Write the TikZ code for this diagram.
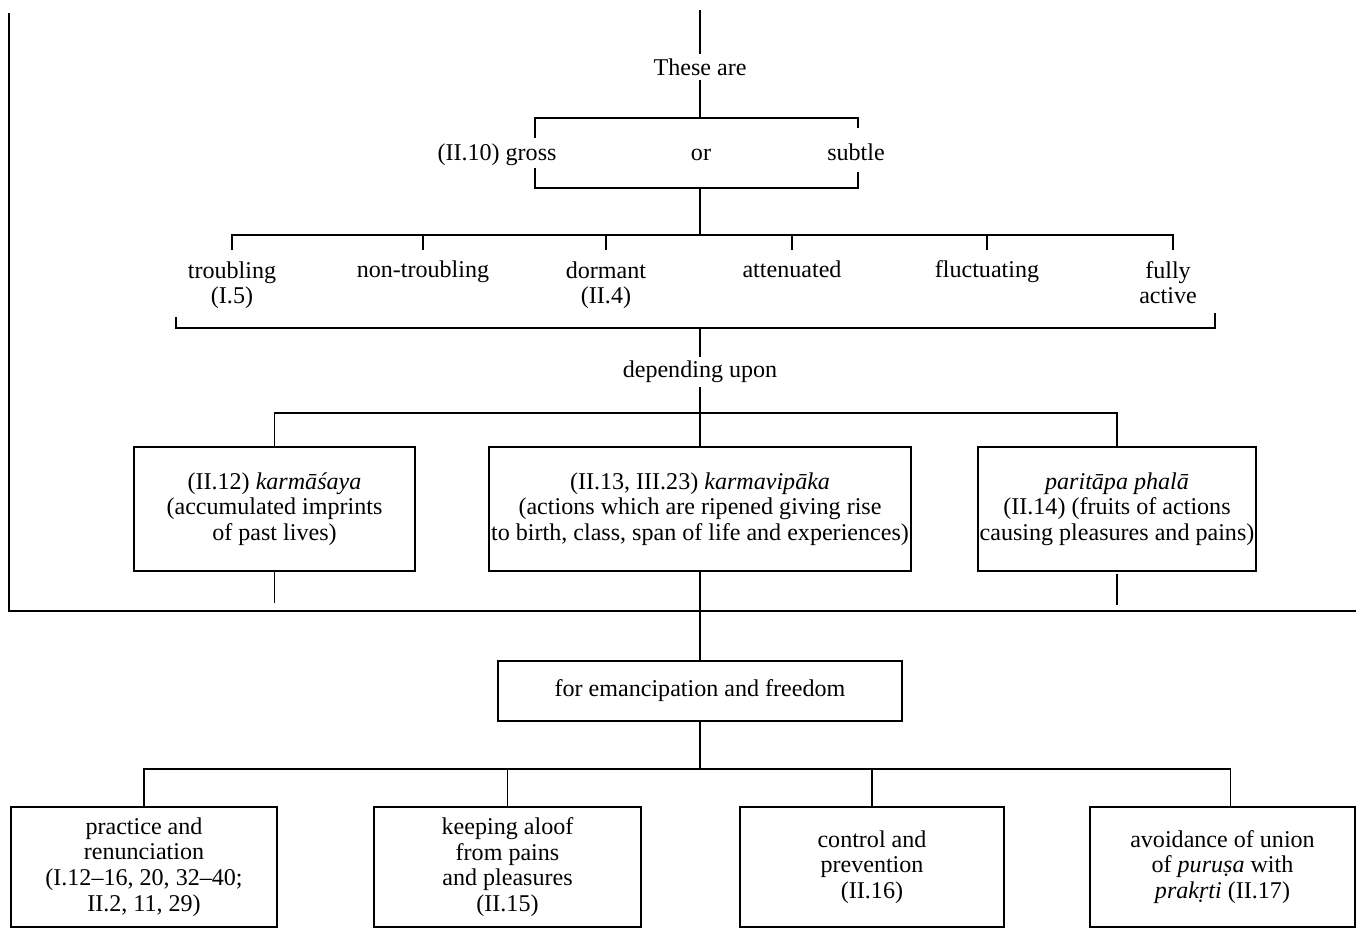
\documentclass[tikz,border=0pt]{standalone}
\usepackage{fontspec}
\setmainfont{Liberation Serif}
\begin{document}
\begin{tikzpicture}[x=0.02cm,y=-0.02cm,line width=0.9pt,
    every node/.style={font=\fontsize{13.7}{14.6}\selectfont,align=center,inner sep=2pt},
    box/.style={draw,inner sep=0pt,minimum height=2.48cm},
    lowbox/.style={draw,inner sep=0pt,minimum height=2.4cm}]
    \useasboundingbox (0,0) rectangle (1356,928);
    % frame round the upper half
    \coordinate (frametop) at (9,13);
    \coordinate (framecorner) at (9,611);
    \coordinate (frameend) at (1356,611);
    \draw (frametop) -- (framecorner) -- (frameend);

    \coordinate (start) at (700,10);
    \node (these) at (700,67) {These are};
    \draw (start) -- (these);

    % gross or subtle
    \coordinate (gtl) at (535,118);
    \coordinate (gtr) at (858,118);
    \coordinate (gbl) at (535,188);
    \coordinate (gbr) at (858,188);
    \coordinate (gtm) at (700,118);
    \coordinate (gbm) at (700,188);
    \node[anchor=base] (gross) at (497,161) {(II.10) gross};
    \node[anchor=base] (or) at (701,161) {or};
    \node[anchor=base] (subtle) at (856,161) {subtle};
    \draw (these) -- (gtm);
    \draw (gtl) ++(0,20) -- (gtl) -- (gtr) -- ++(0,10);
    \draw (gbl) ++(0,-20) -- (gbl) -- (gbr) -- ++(0,-16);

    % six states
    \coordinate (row) at (700,235);
    \draw (gbm) -- (row);
    \node[anchor=base] (troubling) at (232,304) {troubling\\(I.5)};
    \node[anchor=base] (nontroubling) at (423,278) {non-troubling};
    \node[anchor=base] (dormant) at (606,304) {dormant\\(II.4)};
    \node[anchor=base] (attenuated) at (792,278) {attenuated};
    \node[anchor=base] (fluctuating) at (987,278) {fluctuating};
    \node[anchor=base] (fully) at (1168,304) {fully\\active};
    \draw (troubling.north |- 0,250) -- (troubling.north |- row) -- (1173,235) -- (1173,250);
    \foreach \n in {nontroubling,dormant,attenuated,fluctuating}
        \draw (\n.north |- row) -- ++(0,15);

    \coordinate (bl) at (176,328);
    \coordinate (br) at (1215,328);
    \coordinate (bm) at (700,328);
    \draw (bl) ++(0,-11) -- (bl) -- (br) -- ++(0,-15);

    \node (depending) at (700,372) {depending upon};
    \draw (bm) -- (depending);
    \coordinate (split) at (700,413);
    \draw (depending) -- (split);

    % three causes
    \node[box,minimum width=5.62cm] (asaya) at (274.5,509)
        {(II.12) \textit{karmāśaya}\\(accumulated imprints\\of past lives)};
    \node[box,minimum width=8.45cm] (vipaka) at (700,509)
        {(II.13, III.23) \textit{karmavipāka}\\(actions which are ripened giving rise\\to birth, class, span of life and experiences)};
    \node[box,minimum width=5.56cm] (paritapa) at (1117,509)
        {\textit{paritāpa phalā}\\(II.14) (fruits of actions\\causing pleasures and pains)};
    \draw (asaya.north) |- (split) -| (paritapa.north);
    \draw (split) -- (vipaka.north);
    \draw (asaya.south) -- ++(0,31);
    \draw (paritapa.south) ++(0,2) -- ++(0,31);

    % emancipation
    \node[draw,minimum width=8.08cm,minimum height=1.2cm,inner sep=0pt] (free) at (700,691)
        {for emancipation and freedom};
    \draw (vipaka.south) -- (free.north);
    \coordinate (fork) at (700,769);
    \draw (free.south) -- (fork);

    \node[lowbox,minimum width=5.32cm] (practice) at (144,867)
        {practice and\\renunciation\\(I.12--16, 20, 32--40;\\II.2, 11, 29)};
    \node[lowbox,minimum width=5.34cm] (aloof) at (507.5,867)
        {keeping aloof\\from pains\\and pleasures\\(II.15)};
    \node[lowbox,minimum width=5.28cm] (control) at (872,867)
        {control and\\prevention\\(II.16)};
    \node[lowbox,minimum width=5.3cm] (avoid) at (1222.5,867)
        {avoidance of union\\of \textit{puruṣa} with\\\textit{prakṛti} (II.17)};
    \draw (practice.north) |- (fork) -| ([xshift=0.16cm]avoid.north);
    \draw (aloof.north) -- (aloof.north |- fork);
    \draw (control.north) -- (control.north |- fork);
\end{tikzpicture}
\end{document}
